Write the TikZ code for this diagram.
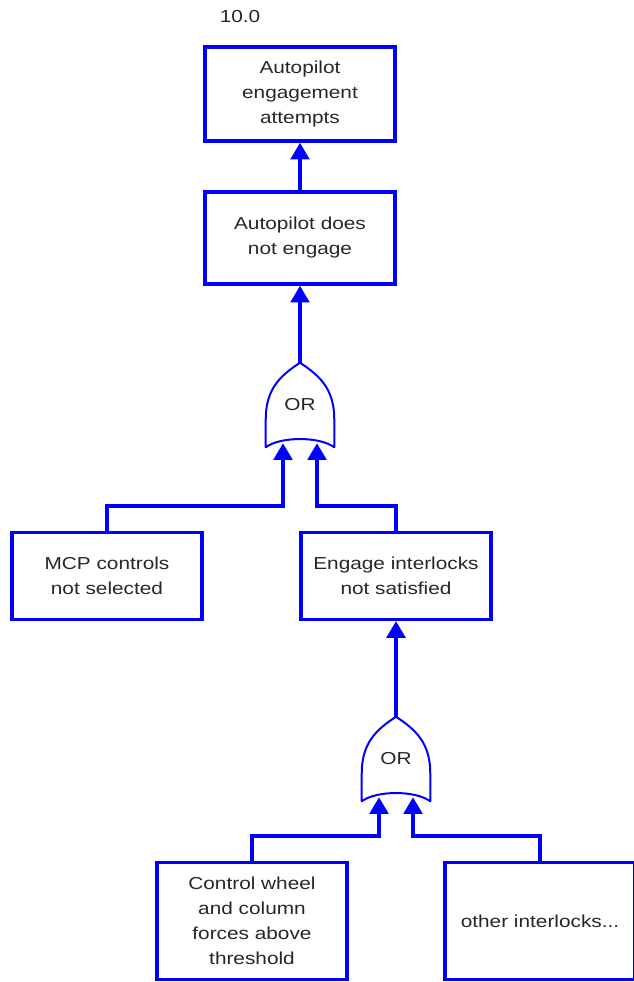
\documentclass[tikz,border=0pt]{standalone}
\usepackage{fontspec}
\setmainfont[FakeStretch=1.2]{Liberation Sans}
\usetikzlibrary{arrows.meta,calc}

\begin{document}
\begin{tikzpicture}[x=0.75pt,y=-0.75pt,
    box/.style={draw=blue,line width=2.7pt,align=center,inner sep=0pt,
      minimum width=142.5pt,text=black!85,font=\fontsize{13}{18.75}\selectfont},
    wire/.style={blue,line width=2.7pt},
    arr/.style={wire,-{Triangle[length=12.5pt,width=14pt]}},
    orgate/.style={minimum width=51pt,minimum height=63pt,inner sep=0pt,
      text=black!85,font=\fontsize{13}{18.75}\selectfont},
    gateline/.style={draw=blue,line width=1.5pt,line join=round}]

  \useasboundingbox (0,0) rectangle (634,982);

  \node[text=black!85,font=\fontsize{13}{16}\selectfont] (num) at (240,17) {10.0};

  \node[box,minimum height=70.5pt] (top) at (300,94) {Autopilot\\engagement\\attempts};
  \node[box,minimum height=69pt] (noeng) at (300,238) {Autopilot does\\not engage};
  \node[orgate] (or1) at (300,405) {OR};
  \node[box,minimum height=65pt] (mcp) at (107,576) {MCP controls\\not selected};
  \node[box,minimum height=65pt] (intlk) at (396,576) {Engage interlocks\\not satisfied};
  \node[orgate] (or2) at (396,759) {OR};
  \node[box,minimum height=88pt] (wheel) at (252,921) {Control wheel\\and column\\forces above\\threshold};
  \node[box,minimum height=88pt] (other) at (540,921) {other interlocks...};

  % gate outlines
  \foreach \g in {or1,or2}
    \draw[gateline] (\g.south west) -- ++(0,-28)
      .. controls +(0,-30) and +(-20,13) .. (\g.north)
      .. controls +(20,13) and +(0,-30) .. ($(\g.south east)+(0,-28)$)
      -- (\g.south east)
      .. controls +(-15,-11) and +(15,-11) .. (\g.south west) -- cycle;

  \coordinate (or1-in1) at ($(or1.south)+(-17,-4)$);
  \coordinate (or1-in2) at ($(or1.south)+(17,-4)$);
  \coordinate (or2-in1) at ($(or2.south)+(-17,-4)$);
  \coordinate (or2-in2) at ($(or2.south)+(17,-4)$);
  \coordinate (bus1) at (0,506);
  \coordinate (bus2) at (0,836);

  \draw[arr] (noeng.north) -- (top.south);
  \draw[arr] (or1.north) -- (noeng.south);
  \draw[arr] (mcp.north) -- (mcp.north |- bus1) -| (or1-in1);
  \draw[arr] (intlk.north) -- (intlk.north |- bus1) -| (or1-in2);
  \draw[arr] (or2.north) -- (intlk.south);
  \draw[arr] (wheel.north) -- (wheel.north |- bus2) -| (or2-in1);
  \draw[arr] (other.north) -- (other.north |- bus2) -| (or2-in2);

\end{tikzpicture}
\end{document}
